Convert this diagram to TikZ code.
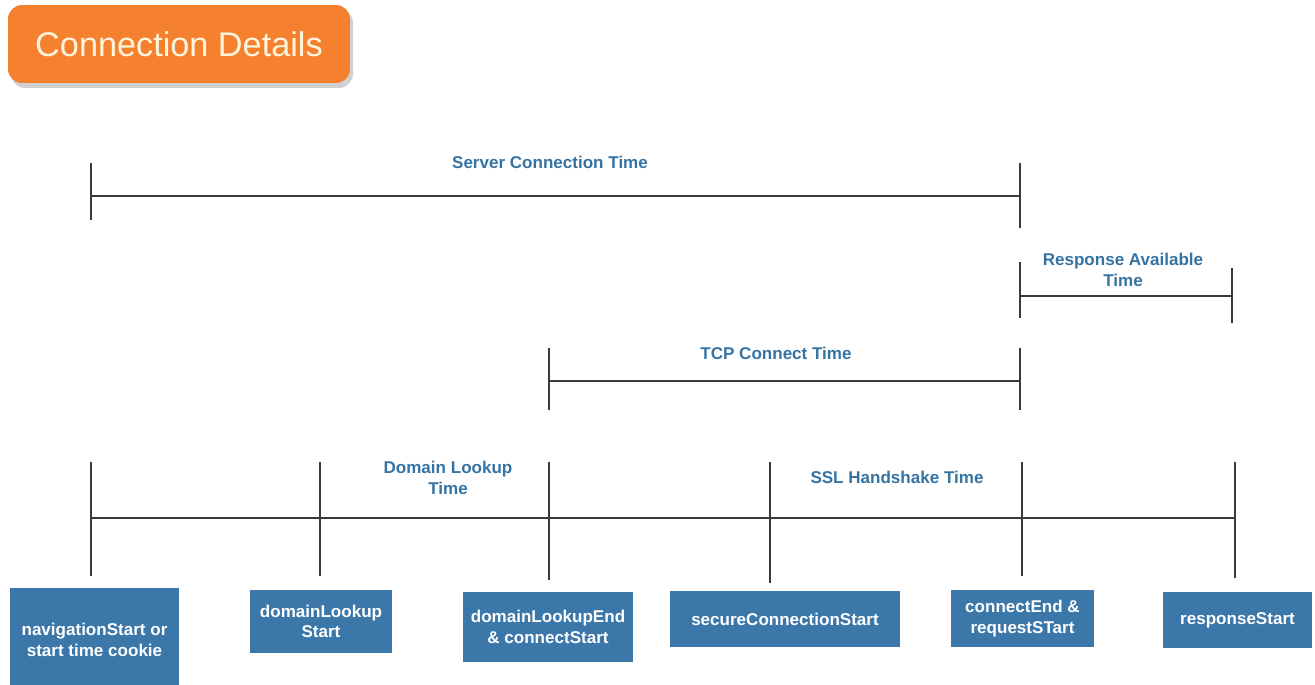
\documentclass[tikz,border=0pt]{standalone}
\usepackage{fontspec}
\setmainfont{Liberation Sans}
\usetikzlibrary{positioning}
\definecolor{hdrorange}{HTML}{F5812F}
\definecolor{hdrtext}{HTML}{FFF4DC}
\definecolor{evtblue}{HTML}{3B77A9}
\definecolor{lblblue}{HTML}{3573A3}
\definecolor{tlgray}{HTML}{3A3A3A}

\begin{document}
\begin{tikzpicture}[x=0.02cm, y=-0.02cm,
    evt/.style={fill=evtblue, text=white, align=center, inner sep=0pt, font=\bfseries\fontsize{9.7}{11.5}\selectfont},
    lbl/.style={text=lblblue, align=center, inner sep=0pt, font=\bfseries\fontsize{9.7}{12}\selectfont},
    tl/.style={draw=tlgray, line width=0.9pt}
]
\useasboundingbox (0,0) rectangle (1315,685);

\fill[black!18, rounded corners=8pt] (11,9) rectangle (353,88);
\node[fill=hdrorange, rounded corners=8pt, minimum width=6.84cm, minimum height=1.56cm, text=hdrtext, font=\fontsize{19.5}{22}\selectfont] (title) at (179,44) {Connection Details};

% spans
\coordinate (srvA) at (91,196);
\coordinate (srvB) at (1020,196);
\coordinate (rspA) at (1020,296);
\coordinate (rspB) at (1232,296);
\coordinate (tcpA) at (549,381);
\coordinate (tcpB) at (1020,381);
\coordinate (tlA) at (91,518);
\coordinate (tlB) at (1235,518);

\draw[tl] (srvA) -- (srvB);
\draw[tl] (srvA) ++(0,-33) -- ++(0,57);
\draw[tl] (srvB) ++(0,-33) -- ++(0,65);
\node[lbl] (srvlbl) at (550,162) {Server Connection Time};

\draw[tl] (rspA) -- (rspB);
\draw[tl] (rspA) ++(0,-34) -- ++(0,56);
\draw[tl] (rspB) ++(0,-28) -- ++(0,55);
\node[lbl] (rsplbl) at (1123,270) {Response Available\\Time};

\draw[tl] (tcpA) -- (tcpB);
\draw[tl] (tcpA) ++(0,-33) -- ++(0,62);
\draw[tl] (tcpB) ++(0,-33) -- ++(0,62);
\node[lbl] (tcplbl) at (776,353) {TCP Connect Time};

\draw[tl] (tlA) -- (tlB);
\foreach \x/\b in {91/576, 320/576, 549/580, 770/583, 1022/576, 1235/578}
  \draw[tl] (\x,462) -- (\x,\b);
\node[lbl] (dnslbl) at (448,478) {Domain Lookup\\Time};
\node[lbl] (ssllbl) at (897,477) {SSL Handshake Time};

% events
\node[evt, minimum width=3.38cm, minimum height=2.08cm] (navStart) at (94.5,640) {navigationStart or\\start time cookie};
\node[evt, minimum width=2.84cm, minimum height=1.26cm] (dnsStart) at (321,621.5) {domainLookup\\Start};
\node[evt, minimum width=3.4cm, minimum height=1.4cm] (dnsEnd) at (548,627) {domainLookupEnd\\\& connectStart};
\node[evt, minimum width=4.6cm, minimum height=1.12cm] (sslStart) at (785,619) {secureConnectionStart};
\node[evt, minimum width=2.86cm, minimum height=1.14cm] (connEnd) at (1022.5,618.5) {connectEnd \&\\requestSTart};
\node[evt, minimum width=2.98cm, minimum height=1.12cm] (respStart) at (1237.5,620) {responseStart};
\end{tikzpicture}
\end{document}
